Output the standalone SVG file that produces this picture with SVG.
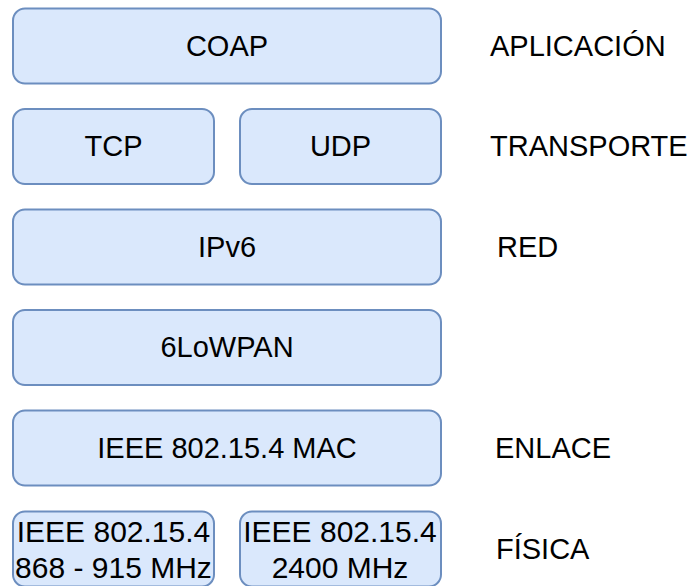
<svg xmlns="http://www.w3.org/2000/svg" width="696" height="586" viewBox="0 0 696 586">
<style>
.box{fill:#dae8fc;stroke:#6c8ebf;stroke-width:2}
.t{font-family:"Liberation Sans",Arial,sans-serif;font-size:29px;fill:#000;text-anchor:middle}
.s{font-family:"Liberation Sans",Arial,sans-serif;font-size:30px;fill:#000;text-anchor:middle}
.l{font-family:"Liberation Sans",Arial,sans-serif;font-size:29px;fill:#000}
</style>
<rect width="696" height="586" fill="#fff"/>
<g id="coap"><rect class="box" x="13" y="8.5" width="428" height="75" rx="12"/><text class="t" x="227" y="56">COAP</text></g>
<g id="tcp"><rect class="box" x="13" y="109" width="201" height="75" rx="12"/><text class="t" x="113.5" y="156">TCP</text></g>
<g id="udp"><rect class="box" x="240" y="109" width="201" height="75" rx="12"/><text class="t" x="340.5" y="156">UDP</text></g>
<g id="ipv6"><rect class="box" x="13" y="209.5" width="428" height="75" rx="12"/><text class="t" x="227" y="257">IPv6</text></g>
<g id="lowpan"><rect class="box" x="13" y="310" width="428" height="75" rx="12"/><text class="t" x="227" y="357">6LoWPAN</text></g>
<g id="mac"><rect class="box" x="13" y="410.5" width="428" height="75" rx="12"/><text class="t" x="227" y="458">IEEE 802.15.4 MAC</text></g>
<g id="phy868"><rect class="box" x="13" y="511.5" width="201" height="75" rx="12"/><text class="s" x="113.5" y="542">IEEE 802.15.4</text><text class="s" x="113.5" y="578">868 - 915 MHz</text></g>
<g id="phy2400"><rect class="box" x="240" y="511.5" width="201" height="75" rx="12"/><text class="s" x="340" y="542">IEEE 802.15.4</text><text class="s" x="340" y="578">2400 MHz</text></g>
<g id="labels">
<text class="l" x="490" y="56">APLICACIÓN</text>
<text class="l" x="490" y="156">TRANSPORTE</text>
<text class="l" x="497" y="257">RED</text>
<text class="l" x="495" y="458">ENLACE</text>
<text class="l" x="496" y="559">FÍSICA</text>
</g>
<g id="connectors"></g>
</svg>
